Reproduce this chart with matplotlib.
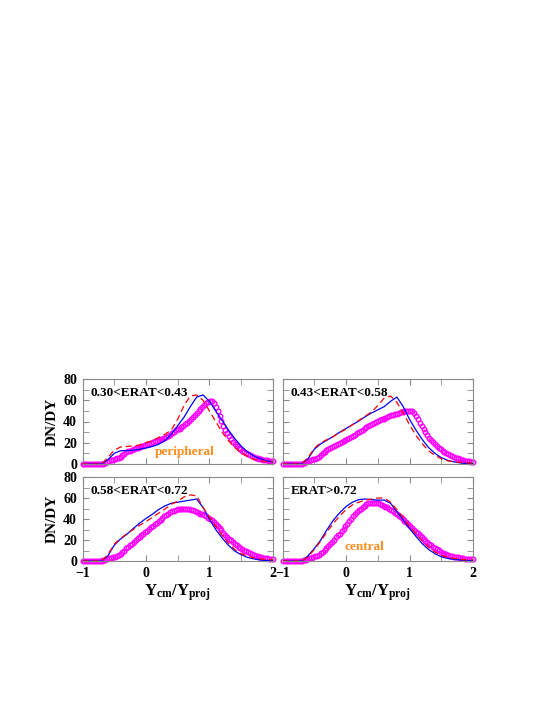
import matplotlib
matplotlib.use("Agg")
import matplotlib.pyplot as plt
from matplotlib.ticker import MultipleLocator

plt.rcParams["font.family"] = ["Liberation Serif", "DejaVu Serif"]
plt.rcParams["font.weight"] = "bold"
plt.rcParams["mathtext.fontset"] = "custom"
plt.rcParams["mathtext.bf"] = "Liberation Serif:bold"
plt.rcParams["mathtext.rm"] = "Liberation Serif:bold"

# x grids: lines every 0.1, symbols every 0.03
x_line = [-1.0, -0.9, -0.8, -0.7, -0.6, -0.5, -0.4, -0.3, -0.2, -0.1,
          0.0, 0.1, 0.2, 0.3, 0.4, 0.5, 0.6, 0.7, 0.8, 0.9,
          1.0, 1.1, 1.2, 1.3, 1.4, 1.5, 1.6, 1.7, 1.8, 1.9, 2.0]
x_data = [round(-1.0 + 0.03 * i, 2) for i in range(101)]

panel_labels = ["0.30<ERAT<0.43", "0.43<ERAT<0.58", "0.58<ERAT<0.72", "ERAT>0.72"]

# blue solid line
blue_1 = [0, 0, 0, 0, 4, 10, 12.5, 12.5, 13, 14,
          15, 16.5, 18.5, 22, 28, 36, 44, 54, 63, 65,
          59, 50, 41, 32, 24, 17, 11.5, 7.5, 5, 3, 2]
blue_2 = [0, 0, 0, 0, 5, 14, 19, 22.5, 26, 30,
          33.5, 37, 40.5, 44.5, 48, 51, 54, 59, 63, 54,
          42, 32, 23, 15.5, 10, 6, 3.5, 2, 1, 0.5, 0.5]
blue_3 = [0, 0, 0, 0, 5, 15, 21, 25.5, 31, 36,
          40.5, 44.5, 49, 52.5, 55, 56, 57, 58, 59, 51,
          40, 30, 22, 15, 9.5, 6, 3.5, 2, 1, 0.5, 0.5]
blue_4 = [0, 0, 0, 0, 5, 12, 20, 30, 39, 46,
          52, 56, 58.5, 59, 58.5, 58, 58, 55, 47, 39,
          31, 23.5, 16.5, 11, 7, 4, 2.5, 1.5, 1, 0.5, 0.5]

# red dashed line
red_1 = [0, 0, 0, 0, 6, 13, 16, 16.5, 17, 18,
         20, 22, 25, 28, 32, 42, 55, 64, 65, 60,
         50, 40, 30, 22, 15.5, 10.5, 7, 4.5, 3, 2.5, 2]
red_2 = [0, 0, 0, 0, 6, 15, 20, 23, 26, 29.5,
         33, 37, 41, 45, 49, 55, 62, 64, 58, 48,
         37, 27, 19, 12.5, 8, 5, 3, 2, 1.5, 1, 1]
red_3 = [0, 0, 0, 0, 6, 16, 21.5, 26, 30, 34,
         37.5, 41.5, 45.5, 49.5, 54, 57, 61, 63, 62, 51,
         42, 33, 24.5, 17, 11, 7, 4.5, 3, 2, 1.5, 1]
red_4 = [0, 0, 0, 0, 4, 11, 19, 28, 36, 43,
         49, 53.5, 56, 58, 59, 60, 60, 56, 49, 41,
         33, 26, 19, 13, 8.5, 5.5, 3.5, 2.5, 1.5, 1, 1]

# magenta open circles
mag_1 = [0, 0, 0, 0, 0, 0, 0, 0, 0, 0,
         0, 0.3, 0.8, 1.7, 2.6, 3.5, 4.1, 4.7, 5.3, 6.1,
         7.0, 8.2, 9.5, 11.0, 12.0, 12.5, 13.1, 13.8, 14.7, 15.4,
         16.0, 16.6, 17.2, 17.9, 18.4, 19.0, 19.6, 20.3, 21.2, 21.9,
         22.5, 23.1, 23.8, 24.7, 25.6, 26.5, 27.7, 29.0, 30.5, 31.6,
         32.5, 33.4, 34.4, 35.6, 37.2, 39.0, 40.5, 42.1, 43.9, 46.0,
         48.0, 49.8, 51.6, 53.4, 55.2, 57.0, 58.5, 59.6, 59.4, 57.0,
         54.0, 49.8, 45.4, 40.6, 36.2, 32.0, 29.0, 26.1, 23.4, 21.1,
         19.0, 17.2, 15.5, 14.0, 12.7, 11.5, 10.3, 9.2, 8.3, 7.4,
         6.5, 5.9, 5.3, 4.7, 4.3, 4.0, 3.7, 3.4, 3.1, 2.8,
         2.5]
mag_2 = [0, 0, 0, 0, 0, 0, 0, 0, 0, 0,
         0, 0.6, 1.5, 2.4, 3.1, 3.7, 4.3, 5.0, 5.9, 7.0,
         8.5, 10.0, 11.5, 13.0, 14.1, 15.0, 16.2, 17.3, 18.2, 19.1,
         20.0, 20.9, 21.8, 22.7, 23.6, 24.5, 25.4, 26.4, 27.6, 28.8,
         30.0, 31.2, 32.4, 33.6, 34.8, 36.0, 36.9, 37.8, 38.7, 39.6,
         40.5, 41.4, 42.2, 42.8, 43.6, 44.5, 45.1, 45.7, 46.3, 46.9,
         47.5, 48.1, 48.7, 49.3, 49.8, 50.0, 50.0, 50.0, 49.5, 47.8,
         45.0, 42.0, 39.0, 36.0, 33.0, 30.0, 27.3, 24.7, 22.3, 20.3,
         18.5, 17.0, 15.5, 14.0, 12.7, 11.5, 10.3, 9.2, 8.3, 7.4,
         6.5, 5.9, 5.3, 4.7, 4.1, 3.5, 3.2, 2.9, 2.6, 2.3,
         2.0]
mag_3 = [0, 0, 0, 0, 0, 0, 0, 0, 0, 0,
         0, 0.6, 1.4, 2.0, 2.6, 3.2, 3.5, 4.1, 5.0, 5.8,
         7.0, 8.5, 10.0, 12.0, 13.8, 15.0, 16.5, 18.1, 20.0, 21.5,
         23.0, 24.5, 26.0, 27.5, 29.0, 30.5, 32.0, 33.5, 35.0, 36.5,
         38.0, 39.5, 41.0, 42.6, 43.8, 45.0, 46.2, 47.3, 48.0, 48.9,
         49.5, 49.8, 50.0, 50.0, 50.0, 49.6, 49.3, 49.0, 48.4, 47.6,
         47.0, 46.1, 45.2, 44.3, 43.4, 42.5, 41.3, 40.2, 38.8, 36.8,
         35.0, 33.2, 31.4, 29.2, 27.1, 25.0, 23.2, 21.4, 19.6, 18.0,
         16.5, 15.0, 13.6, 12.4, 11.2, 10.0, 9.1, 8.2, 7.3, 6.4,
         5.5, 4.9, 4.3, 3.8, 3.4, 3.0, 2.7, 2.4, 2.1, 2.0,
         2.0]
mag_4 = [0, 0, 0, 0, 0, 0, 0, 0, 0, 0,
         0, 0.6, 1.4, 2.0, 2.6, 3.2, 3.8, 4.4, 5.2, 6.1,
         7.5, 9.0, 10.5, 12.5, 14.3, 16.2, 18.3, 20.4, 22.5, 24.6,
         26.0, 28.4, 30.8, 33.2, 35.6, 38.0, 40.4, 42.7, 44.8, 46.6,
         48.5, 50.0, 51.4, 52.6, 53.9, 54.8, 55.4, 55.5, 55.5, 55.3,
         55.0, 54.4, 53.7, 52.8, 51.9, 51.0, 49.8, 48.6, 47.4, 46.0,
         44.5, 43.0, 41.5, 40.0, 38.5, 37.0, 35.2, 33.4, 31.6, 29.8,
         28.0, 26.2, 24.4, 22.6, 21.0, 19.5, 18.0, 16.5, 15.0, 13.7,
         12.5, 11.3, 10.1, 8.9, 8.0, 7.0, 6.4, 5.8, 5.2, 4.6,
         4.0, 3.7, 3.4, 3.1, 2.8, 2.5, 2.2, 1.9, 1.7, 1.5,
         1.5]

blue_all = [blue_1, blue_2, blue_3, blue_4]
red_all = [red_1, red_2, red_3, red_4]
mag_all = [mag_1, mag_2, mag_3, mag_4]

fig = plt.figure(figsize=(5.45, 7.05), dpi=100)

W, H = 545.0, 705.0
lefts = [82.5 / W, 282.7 / W]
width = 190.3 / W
rows = [(1 - 464 / H, 85 / H), (1 - 561 / H, 84 / H)]

frame_col = "#8a8a8a"
axes = []
for i in range(4):
    r, c = divmod(i, 2)
    ax = fig.add_axes([lefts[c], rows[r][0], width, rows[r][1]])
    axes.append(ax)

    ax.plot(x_data, mag_all[i], linestyle="none", marker="o", markersize=3.3,
            markerfacecolor="none", markeredgecolor="#ff00ff",
            markeredgewidth=1.0, clip_on=False, zorder=2)
    ax.plot(x_line, blue_all[i], color="#0000ff", lw=0.9, zorder=3)
    ax.plot(x_line, red_all[i], color="#ff0000", lw=0.9, ls=(0, (5, 3)), zorder=3)

    ax.set_xlim(-1, 2)
    ax.set_ylim(0, 80)
    ax.xaxis.set_major_locator(MultipleLocator(1))
    ax.xaxis.set_minor_locator(MultipleLocator(0.5))
    ax.yaxis.set_major_locator(MultipleLocator(20))
    ax.yaxis.set_minor_locator(MultipleLocator(10))
    ax.tick_params(which="both", direction="in", top=True, right=True,
                   color=frame_col, labelsize=10, pad=4, length=4)
    for sp in ax.spines.values():
        sp.set_color(frame_col)
        sp.set_linewidth(0.8)

    if c == 1:
        ax.tick_params(labelleft=False)
    else:
        ax.set_ylabel("DN/DY", fontsize=11, fontweight="bold", labelpad=3)
    if r == 0:
        ax.tick_params(labelbottom=False)
    else:
        ax.set_xlabel(r"$\mathbf{Y_{cm}/Y_{proj}}$", fontsize=12, labelpad=2)

    ax.text(0.04, 0.835, panel_labels[i], transform=ax.transAxes,
            fontsize=9.5, fontweight="bold", va="center", ha="left")

axes[0].text(0.61, 11, "peripheral", color="#ff8c1a", fontsize=9.5,
             fontweight="bold", ha="center", va="center")
axes[3].text(0.29, 13, "central", color="#ff8c1a", fontsize=9.5,
             fontweight="bold", ha="center", va="center")

fig.savefig("out.png", dpi=100)
